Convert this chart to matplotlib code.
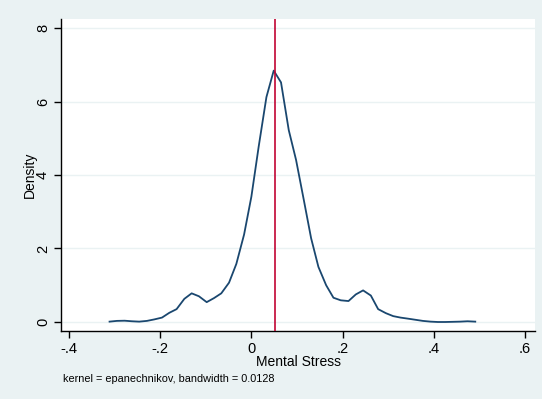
import matplotlib
matplotlib.use("Agg")
import matplotlib.pyplot as plt

# kernel density estimate (50 evaluation points)
grid = [-0.311, -0.295, -0.278, -0.262, -0.246, -0.229, -0.213, -0.196, -0.180, -0.164,
        -0.147, -0.131, -0.115, -0.098, -0.082, -0.066, -0.049, -0.033, -0.016, 0.000,
        0.016, 0.033, 0.049, 0.065, 0.082, 0.098, 0.115, 0.131, 0.147, 0.164,
        0.180, 0.196, 0.213, 0.229, 0.245, 0.262, 0.278, 0.295, 0.311, 0.327,
        0.344, 0.360, 0.376, 0.393, 0.409, 0.425, 0.442, 0.458, 0.474, 0.491]
density = [0.01, 0.03, 0.035, 0.02, 0.01, 0.03, 0.07, 0.12, 0.25, 0.35,
           0.63, 0.78, 0.70, 0.54, 0.65, 0.78, 1.07, 1.58, 2.38, 3.41,
           4.77, 6.12, 6.84, 6.52, 5.22, 4.41, 3.32, 2.28, 1.50, 1.00,
           0.66, 0.59, 0.57, 0.75, 0.86, 0.72, 0.35, 0.24, 0.16, 0.12,
           0.09, 0.06, 0.03, 0.01, 0.0, 0.0, 0.005, 0.01, 0.02, 0.01]
mean_line = 0.052

xticks = [-0.4, -0.2, 0, 0.2, 0.4, 0.6]
xticklabels = ["-.4", "-.2", "0", ".2", ".4", ".6"]
yticks = [0, 2, 4, 6, 8]

plt.rcParams['font.family'] = ['Liberation Sans', 'DejaVu Sans']

bg = '#EAF2F3'
fig = plt.figure(figsize=(5.42, 3.99), dpi=100, facecolor=bg)
ax = fig.add_axes([61 / 542, 1 - 331 / 399, 474 / 542, 312 / 399])
ax.set_facecolor('white')

for y in yticks:
    ax.axhline(y, color=bg, lw=1.0, zorder=0)

ax.plot(grid, density, color='#1A476F', lw=1.3, zorder=2)
ax.axvline(mean_line, color='#C10534', lw=1.2, zorder=3)

ax.set_xlim(-0.4175, 0.622)
ax.set_ylim(-0.245, 8.245)
ax.set_xticks(xticks)
ax.set_xticklabels(xticklabels)
ax.set_yticks(yticks)
ax.set_yticklabels([str(y) for y in yticks], rotation=90, va='center')

for s in ['top', 'right']:
    ax.spines[s].set_visible(False)
for s in ['left', 'bottom']:
    ax.spines[s].set_color('black')
    ax.spines[s].set_linewidth(1.0)
ax.tick_params(direction='out', length=5, width=1, labelsize=10.5, pad=3)

ax.set_xlabel('Mental Stress', fontsize=10, labelpad=-1)
ax.set_ylabel('Density', fontsize=10, labelpad=-1)

fig.text(63 / 542, 1 - 379 / 399, 'kernel = epanechnikov, bandwidth = 0.0128',
         fontsize=7.8, va='center', ha='left')

fig.savefig('out.png', dpi=100, facecolor=bg)
